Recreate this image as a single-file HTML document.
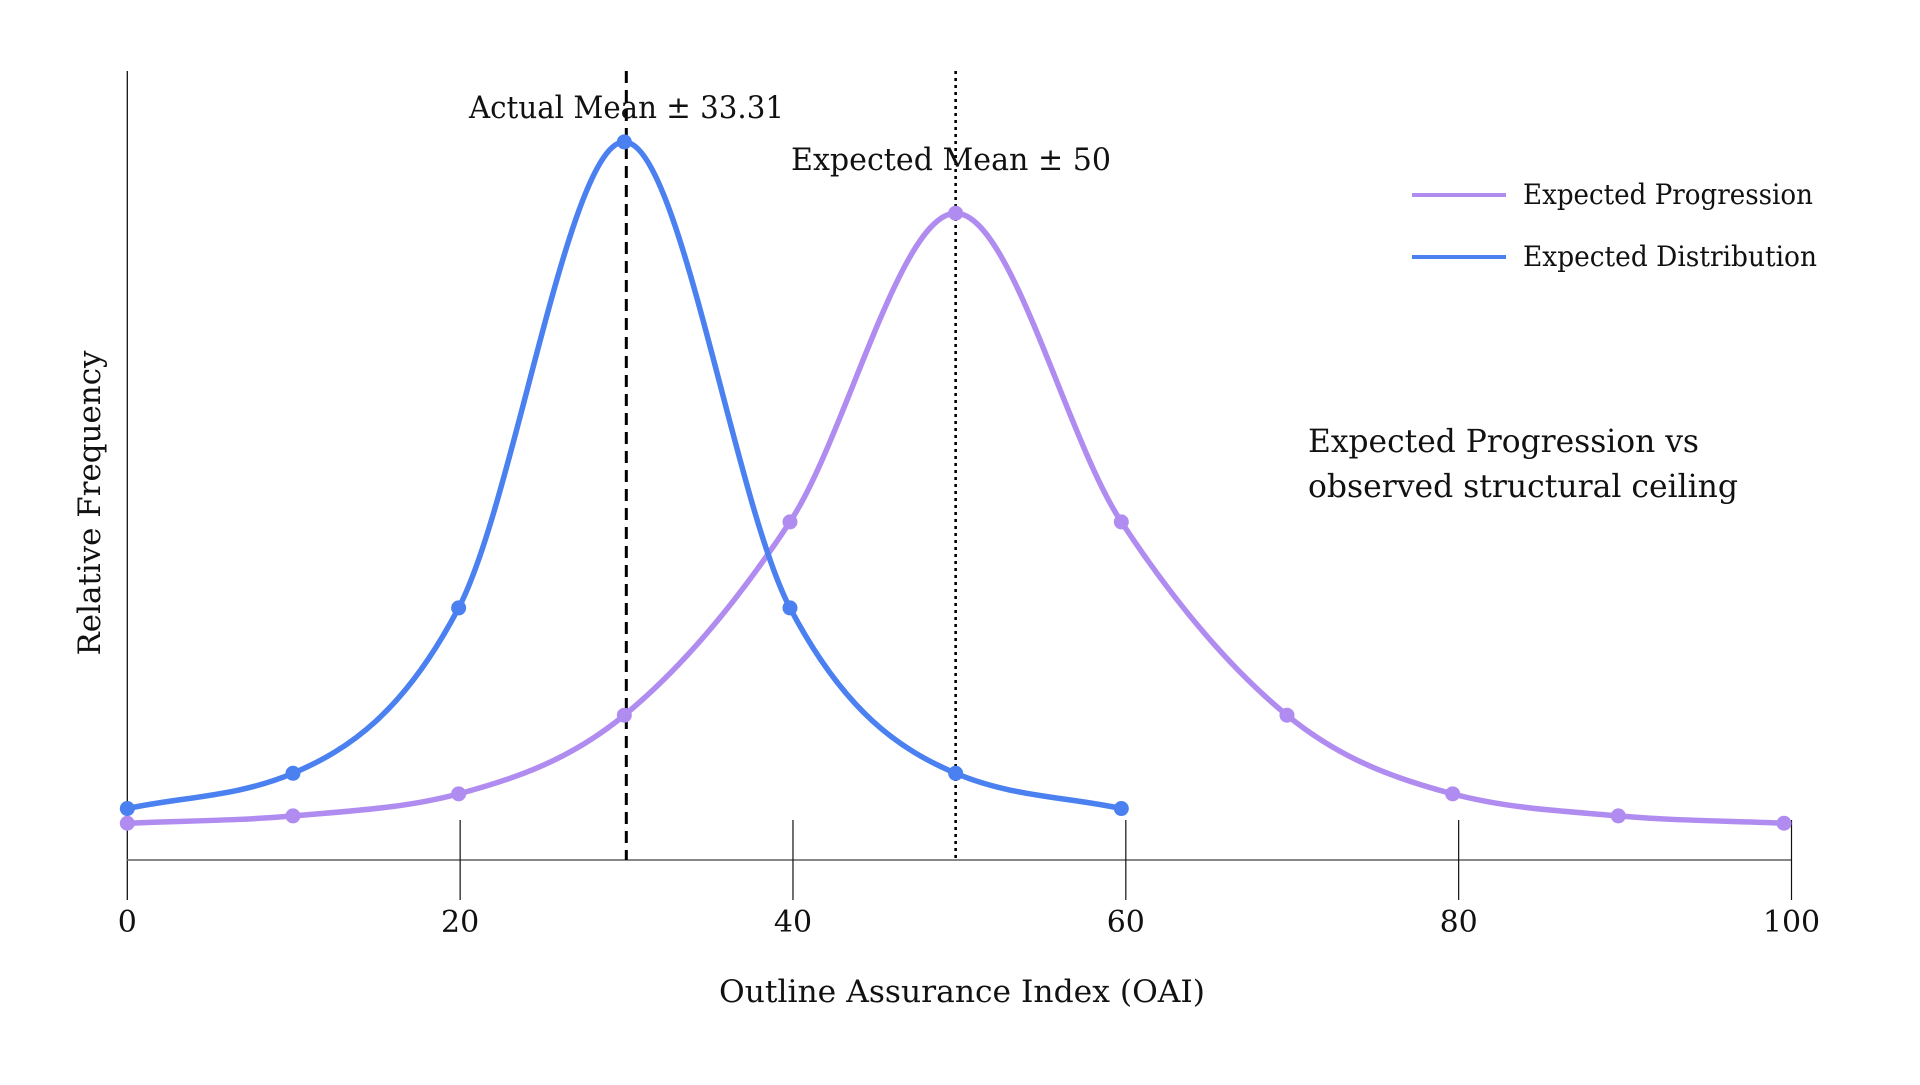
<!DOCTYPE html>
<html><head><meta charset="utf-8"><style>
html,body{margin:0;padding:0;background:#fff;}
svg text{font-family:"DejaVu Serif","Liberation Serif",serif;fill:#111;}
</style></head><body>
<svg id="chart" width="1920" height="1080" viewBox="0 0 1920 1080" xmlns="http://www.w3.org/2000/svg"></svg>
<script>
const xTicks = [0, 20, 40, 60, 80, 100];
const blueX = [0, 10, 20, 30, 40, 50, 60];
const blueY = [0.07, 0.118, 0.343, 0.977, 0.343, 0.118, 0.07];
const purpleX = [0, 10, 20, 30, 40, 50, 60, 70, 80, 90, 100];
const purpleY = [0.05, 0.06, 0.09, 0.197, 0.46, 0.88, 0.46, 0.197, 0.09, 0.06, 0.05];
const actualMeanX = [30];
const expectedMeanX = [50];

const NS = "http://www.w3.org/2000/svg";
const svg = document.getElementById('chart');
const X0 = 127.3, X1 = 1791.5, XD1 = 1784, Y0 = 860, YH = 735;
const xs = v => X0 + (X1 - X0) * v / 100;
const xd = v => X0 + (XD1 - X0) * v / 100;
const ys = v => Y0 - v * YH;
function mk(tag, attrs, parent) {
  const el = document.createElementNS(NS, tag);
  for (const k in attrs) el.setAttribute(k, attrs[k]);
  (parent || svg).appendChild(el);
  return el;
}
let el = mk('line', {x1: X0, y1: 71, x2: X0, y2: 900, stroke: '#111', 'stroke-width': 1.3});


el = mk('line', {x1: X0, y1: Y0, x2: X1, y2: Y0, stroke: '#777', 'stroke-width': 1.8});


xTicks.forEach(t => {
  const x = xs(t);
  if (t > 0) {
    const tk = mk('line', {x1: x, y1: 820, x2: x, y2: 900, stroke: '#111', 'stroke-width': 1.2});
    
    
  }
  const lb = mk('text', {x: x, y: 932, 'font-size': 30, 'text-anchor': 'middle'});
  lb.textContent = t;
  
  
});
actualMeanX.forEach(m => {
  const l = mk('line', {x1: xd(m) + 2, y1: 71, x2: xd(m) + 2, y2: Y0, stroke: '#000', 'stroke-width': 3, 'stroke-dasharray': '12 7'});
  
  
});
expectedMeanX.forEach(m => {
  const l = mk('line', {x1: xd(m), y1: 71, x2: xd(m), y2: Y0, stroke: '#000', 'stroke-width': 2.6, 'stroke-dasharray': '3 4'});
  
  
});
// monotone-X cubic interpolation
function path(xa, ya) {
  const p = xa.map((x, i) => [xd(x), ys(ya[i])]);
  const n = p.length, s = [], m = [];
  for (let i = 0; i < n - 1; i++) s.push((p[i + 1][1] - p[i][1]) / (p[i + 1][0] - p[i][0]));
  for (let i = 0; i < n; i++) {
    if (i === 0) m.push(s[0]);
    else if (i === n - 1) m.push(s[n - 2]);
    else {
      const a = s[i - 1], b = s[i];
      if (a * b <= 0) m.push(0);
      else {
        const h0 = p[i][0] - p[i - 1][0], h1 = p[i + 1][0] - p[i][0];
        const pp = (a * h1 + b * h0) / (h0 + h1);
        m.push((Math.sign(a) + Math.sign(b)) * Math.min(Math.abs(a), Math.abs(b), 0.5 * Math.abs(pp)));
      }
    }
  }
  let d = `M${p[0][0]},${p[0][1]}`;
  for (let i = 0; i < n - 1; i++) {
    const h = (p[i + 1][0] - p[i][0]) / 3;
    d += `C${p[i][0] + h},${p[i][1] + h * m[i]} ${p[i + 1][0] - h},${p[i + 1][1] - h * m[i + 1]} ${p[i + 1][0]},${p[i + 1][1]}`;
  }
  return d;
}
function series(xa, ya, color, name) {
  const g = mk('g', {});
  
  
  const pth = mk('path', {d: path(xa, ya), fill: 'none', stroke: color, 'stroke-width': 5.5}, g);
  
  
  xa.forEach((x, i) => {
    const c = mk('circle', {cx: xd(x), cy: ys(ya[i]), r: 7.5, fill: color}, g);
    
    
  });
}
series(purpleX, purpleY, '#b08cf0', 'expected-progression');
series(blueX, blueY, '#4a80f0', 'expected-distribution');
function txt(x, y, s, size, name, extra) {
  const t = mk('text', Object.assign({x: x, y: y, 'font-size': size}, extra || {}));
  t.textContent = s;
  
  
  return t;
}
txt(469, 118, 'Actual Mean ± 33.31', 31, 'actual-mean-label', {textLength: 315, lengthAdjust: 'spacingAndGlyphs'});
txt(791, 170, 'Expected Mean ± 50', 31, 'expected-mean-label', {textLength: 320, lengthAdjust: 'spacingAndGlyphs'});
txt(1308, 452, 'Expected Progression vs', 32, 'annotation-line-1', {textLength: 391, lengthAdjust: 'spacingAndGlyphs'});
txt(1308, 497, 'observed structural ceiling', 32, 'annotation-line-2', {textLength: 430, lengthAdjust: 'spacingAndGlyphs'});
txt(962, 1002, 'Outline Assurance Index (OAI)', 31, 'x-axis-title', {'text-anchor': 'middle', textLength: 486, lengthAdjust: 'spacingAndGlyphs'});
txt(0, 0, 'Relative Frequency', 31, 'y-axis-title', {'text-anchor': 'middle', transform: 'translate(100,503) rotate(-90)', textLength: 305, lengthAdjust: 'spacingAndGlyphs'});
const lg = mk('g', {});


[['Expected Progression', '#b08cf0', 195], ['Expected Distribution', '#4a80f0', 257]].forEach(([s, c, y]) => {
  const l = mk('line', {x1: 1412, y1: y, x2: 1506, y2: y, stroke: c, 'stroke-width': 4}, lg);
  
  
  const t = mk('text', {x: 1523, y: y + 9, 'font-size': 28, textLength: s.length > 20 ? 294 : 290, lengthAdjust: 'spacingAndGlyphs'}, lg);
  t.textContent = s;
  
  
});
</script>
</body></html>
